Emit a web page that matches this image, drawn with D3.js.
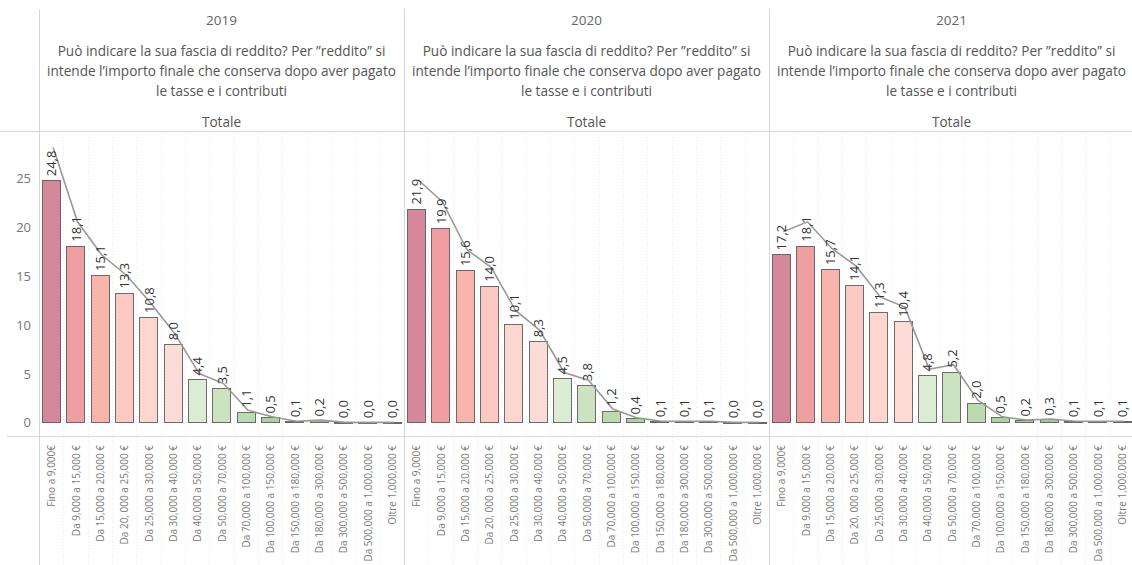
<!DOCTYPE html>
<html>
<head>
<meta charset="utf-8">
<script src="https://cdn.jsdelivr.net/npm/d3@7"></script>
<style>
  body { margin: 0; background: #fff; }
  svg text { font-family: "Open Sans", "Noto Sans", sans-serif; }
</style>
</head>
<body>
<svg id="chart" width="1132" height="565"></svg>
<script>
// fasce di reddito (asse x)
var categories = [
  "Fino a 9,000€", "Da 9,000 a 15,000 €", "Da 15,000 a 20,000 €", "Da 20, 000 a 25,000 €",
  "Da 25,000 a 30,000 €", "Da 30,000 a 40,000 €", "Da 40,000 a 50,000 €", "Da 50,000 a 70,000 €",
  "Da 70,000 a 100,000 €", "Da 100,000 a 150,000 €", "Da 150,000 a 180,000 €", "Da 180,000 a 300,000 €",
  "Da 300,000 a 500,000 €", "Da 500,000 a 1,000,000 €", "Oltre 1,000,000 €"
];
var years = ["2019", "2020", "2021"];
var values2019 = [24.8, 18.1, 15.1, 13.3, 10.8, 8.0, 4.4, 3.5, 1.1, 0.5, 0.1, 0.2, 0.0, 0.0, 0.0];
var values2020 = [21.9, 19.9, 15.6, 14.0, 10.1, 8.3, 4.5, 3.8, 1.2, 0.4, 0.1, 0.1, 0.1, 0.0, 0.0];
var values2021 = [17.2, 18.1, 15.7, 14.1, 11.3, 10.4, 4.8, 5.2, 2.0, 0.5, 0.2, 0.3, 0.1, 0.1, 0.1];
var yTicks = [0, 5, 10, 15, 20, 25];
var questionLines = [
  "Può indicare la sua fascia di reddito? Per ”reddito” si",
  "intende l’importo finale che conserva dopo aver pagato",
  "le tasse e i contributi"
];
var barColors = ["#d5889b", "#ef9ea2", "#f8b4ab", "#fbc9c1", "#fcd6cf", "#fddcd7",
                 "#dbebd4", "#cbe3c1", "#badbae", "#abd3a0", "#a3cf96", "#9bca8d",
                 "#93c486", "#8bbf7e", "#83ba77"];

var series = [values2019, values2020, values2021];

var svg = d3.select("#chart");
var W = 1132, H = 565;

// layout
var left = 39, paneW = 365;
var plotTop = 131, plotBottom = 436;

var y = d3.scaleLinear().domain([-1.4, 29.85]).range([plotBottom, plotTop]);
// asse secondario della linea (doppio asse non sincronizzato)
var y2 = d3.scaleLinear().domain([-1.4 / 1.135, 29.85 / 1.135]).range([plotBottom, plotTop]);

var x = d3.scaleBand().domain(categories).range([0, paneW])
  .paddingInner(0.26).paddingOuter(0.13);

// griglie e bordi
var grid = svg.append("g");
years.forEach(function(yr, p) {
  var x0 = left + p * paneW;
  categories.forEach(function(c, i) {
    if (i === 0) return;
    var gx = Math.round(x0 + x.step() * i) + 0.5;
    grid.append("line").attr("x1", gx).attr("x2", gx)
      .attr("y1", plotTop).attr("y2", H)
      .attr("stroke", "#ececec").attr("stroke-dasharray", "1,2");
  });
  grid.append("line").attr("x1", x0).attr("x2", x0 + paneW)
    .attr("y1", Math.round(y(0)) + 0.5).attr("y2", Math.round(y(0)) + 0.5)
    .attr("stroke", "#e4e4e4").attr("stroke-dasharray", "1,2");
});

[0, 1, 2].forEach(function(p) {
  var vx = left + p * paneW + 0.5;
  grid.append("line").attr("x1", vx).attr("x2", vx).attr("y1", 9).attr("y2", H)
    .attr("stroke", "#d6d6d6");
});
grid.append("line").attr("x1", 0).attr("x2", W).attr("y1", plotTop + 0.5).attr("y2", plotTop + 0.5)
  .attr("stroke", "#d6d6d6");
grid.append("line").attr("x1", 7).attr("x2", W).attr("y1", plotBottom + 0.5).attr("y2", plotBottom + 0.5)
  .attr("stroke", "#dcdcdc");

// asse y
var yAxis = d3.axisLeft(y).tickValues(yTicks).tickSize(0).tickPadding(0);
var ya = svg.append("g").attr("transform", "translate(31,0)").call(yAxis);
ya.select(".domain").remove();
ya.selectAll("text").attr("font-size", 13).attr("fill", "#777").attr("dy", "0.35em");

// pannelli
years.forEach(function(yr, p) {
  var x0 = left + p * paneW;
  var cx = x0 + paneW / 2;
  var vals = series[p];
  var g = svg.append("g").attr("transform", "translate(" + x0 + ",0)");

  // intestazioni
  svg.append("text").attr("x", cx).attr("y", 20).attr("text-anchor", "middle")
    .attr("dominant-baseline", "central").attr("font-size", 13.5).attr("fill", "#666").text(yr);
  questionLines.forEach(function(t, k) {
    svg.append("text").attr("x", cx).attr("y", 50 + k * 20).attr("text-anchor", "middle")
      .attr("dominant-baseline", "central").attr("font-size", 13.6).attr("fill", "#555").text(t);
  });
  svg.append("text").attr("x", cx).attr("y", 121).attr("text-anchor", "middle")
    .attr("dominant-baseline", "central").attr("font-size", 13.6).attr("fill", "#555").text("Totale");

  // barre
  g.selectAll("rect.bar").data(vals).enter().append("rect")
    .attr("class", "bar")
    .attr("x", function(d, i) { return Math.round(x(categories[i])) + 0.5; })
    .attr("width", Math.round(x.bandwidth()))
    .attr("y", function(d) { return Math.round(y(d)) + 0.5; })
    .attr("height", function(d) { return Math.max(1, Math.round(y(0)) - Math.round(y(d))); })
    .attr("fill", function(d, i) { return barColors[i]; })
    .attr("stroke", "#555").attr("stroke-opacity", 0.85).attr("stroke-width", 1);

  // linea
  var line = d3.line()
    .x(function(d, i) { return x(categories[i]) + x.bandwidth() / 2 + 2; })
    .y(function(d) { return y2(d); });
  g.append("path").datum(vals).attr("d", line)
    .attr("fill", "none").attr("stroke", "#999").attr("stroke-width", 1.6);

  // etichette valori
  g.selectAll("text.val").data(vals).enter().append("text")
    .attr("class", "val")
    .attr("transform", function(d, i) {
      return "translate(" + (x(categories[i]) + x.bandwidth() / 2) + "," + (y(d) - 4) + ") rotate(-90)";
    })
    .attr("dominant-baseline", "central").attr("font-size", 13).attr("fill", "#333")
    .text(function(d) { return d3.format(".1f")(d).replace(".", ","); });

  // etichette asse x
  g.selectAll("text.cat").data(categories).enter().append("text")
    .attr("class", "cat")
    .attr("transform", function(c) {
      return "translate(" + (x(c) + x.bandwidth() / 2) + "," + 445 + ") rotate(-90)";
    })
    .attr("text-anchor", "end").attr("dominant-baseline", "central")
    .attr("font-size", 10).attr("fill", "#7a7a7a")
    .text(function(c) { return c; });
});
</script>
</body>
</html>
